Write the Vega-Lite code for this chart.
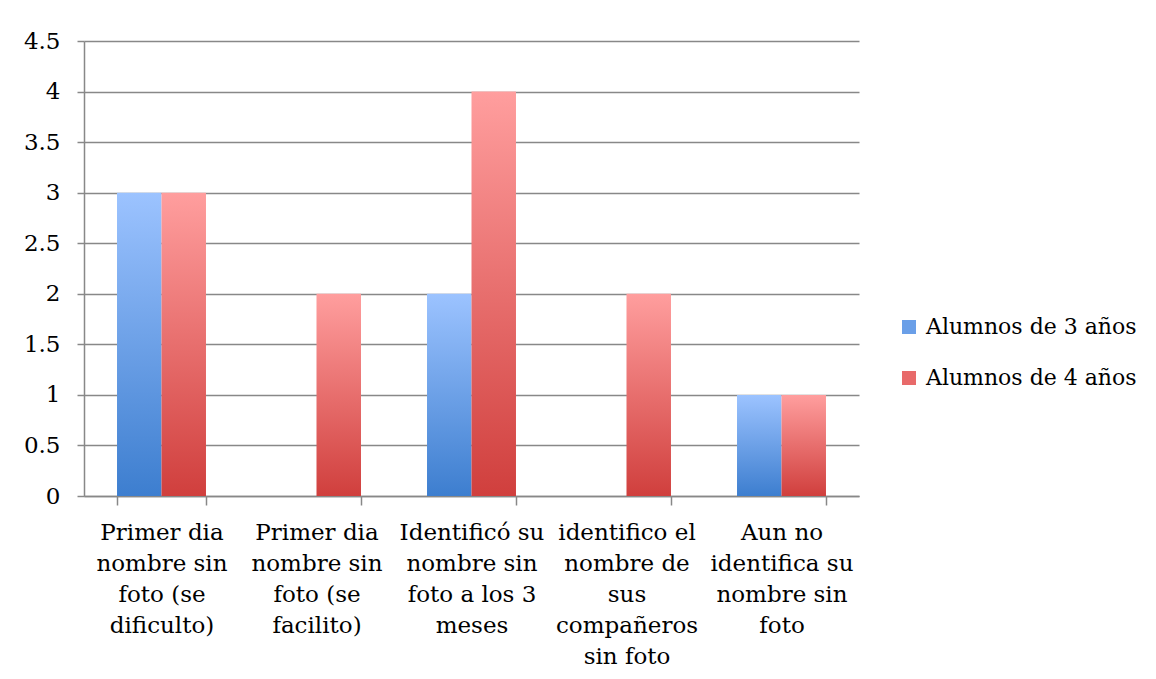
{
  "$schema": "https://vega.github.io/schema/vega-lite/v6.json",
  "width": 775,
  "height": 455,
  "autosize": {"type": "none"},
  "padding": {"left": 84, "top": 41, "right": 297, "bottom": 183},
  "background": "white",
  "config": {
    "view": {"stroke": null},
    "font": "DejaVu Serif"
  },
  "data": {
    "values": [
      {"categoria": "Primer dia|nombre sin|foto (se|dificulto)", "serie": "Alumnos de 3 años", "valor": 3},
      {"categoria": "Primer dia|nombre sin|foto (se|facilito)", "serie": "Alumnos de 3 años", "valor": 0},
      {"categoria": "Identificó su|nombre sin|foto a los 3|meses", "serie": "Alumnos de 3 años", "valor": 2},
      {"categoria": "identifico el|nombre de|sus|compañeros|sin foto", "serie": "Alumnos de 3 años", "valor": 0},
      {"categoria": "Aun no|identifica su|nombre sin|foto", "serie": "Alumnos de 3 años", "valor": 1},
      {"categoria": "Primer dia|nombre sin|foto (se|dificulto)", "serie": "Alumnos de 4 años", "valor": 3},
      {"categoria": "Primer dia|nombre sin|foto (se|facilito)", "serie": "Alumnos de 4 años", "valor": 2},
      {"categoria": "Identificó su|nombre sin|foto a los 3|meses", "serie": "Alumnos de 4 años", "valor": 4},
      {"categoria": "identifico el|nombre de|sus|compañeros|sin foto", "serie": "Alumnos de 4 años", "valor": 2},
      {"categoria": "Aun no|identifica su|nombre sin|foto", "serie": "Alumnos de 4 años", "valor": 1}
    ]
  },
  "encoding": {
    "x": {
      "field": "categoria",
      "type": "nominal",
      "sort": null,
      "scale": {"paddingInner": 0.426, "paddingOuter": 0.213},
      "axis": {
        "title": null,
        "labelAngle": 0,
        "labelExpr": "split(datum.label, '|')",
        "labelFont": "DejaVu Serif",
        "labelFontSize": 23,
        "labelLineHeight": 31,
        "labelColor": "#000000",
        "labelLimit": 300,
        "labelPadding": 16,
        "labelBaseline": "top",
        "tickBand": "extent",
        "tickSize": 9,
        "tickColor": "#888888",
        "tickWidth": 1.5,
        "domainColor": "#888888",
        "domainWidth": 1.5,
        "grid": false
      }
    },
    "xOffset": {
      "field": "serie",
      "type": "nominal",
      "scale": {"domain": ["Alumnos de 3 años", "Alumnos de 4 años"], "paddingInner": 0, "paddingOuter": 0}
    },
    "y": {
      "field": "valor",
      "type": "quantitative",
      "scale": {"domain": [0, 4.5], "nice": false},
      "axis": {
        "title": null,
        "values": [0, 0.5, 1, 1.5, 2, 2.5, 3, 3.5, 4, 4.5],
        "format": "~g",
        "grid": true,
        "gridColor": "#888888",
        "gridWidth": 1.5,
        "domainColor": "#888888",
        "domainWidth": 1.5,
        "tickColor": "#888888",
        "tickWidth": 1.5,
        "tickSize": 7,
        "labelFont": "DejaVu Serif",
        "labelFontSize": 23,
        "labelColor": "#000000",
        "labelPadding": 17
      }
    }
  },
  "layer": [
    {
      "transform": [{"filter": "datum.serie === 'Alumnos de 3 años'"}],
      "mark": {
        "type": "bar",
        "color": {
          "gradient": "linear", "x1": 0, "y1": 0, "x2": 0, "y2": 1,
          "stops": [{"offset": 0, "color": "#9CC3FF"}, {"offset": 1, "color": "#3D7ECF"}]
        }
      }
    },
    {
      "transform": [{"filter": "datum.serie === 'Alumnos de 4 años'"}],
      "mark": {
        "type": "bar",
        "color": {
          "gradient": "linear", "x1": 0, "y1": 0, "x2": 0, "y2": 1,
          "stops": [{"offset": 0, "color": "#FF9E9E"}, {"offset": 1, "color": "#D03F3D"}]
        }
      }
    },
    {
      "mark": {"type": "square", "opacity": 0, "size": 1},
      "encoding": {
        "color": {
          "field": "serie",
          "type": "nominal",
          "scale": {"domain": ["Alumnos de 3 años", "Alumnos de 4 años"], "range": ["#6A9FE8", "#E86A6A"]},
          "legend": {
            "title": null,
            "orient": "none",
            "legendX": 814,
            "legendY": 275,
            "symbolType": "square",
            "symbolSize": 196,
            "symbolOpacity": 1,
            "symbolStrokeWidth": 0,
            "labelFont": "DejaVu Serif",
            "labelFontSize": 22,
            "labelColor": "#000000",
            "labelOffset": 6,
            "rowPadding": 29,
            "labelLimit": 400
          }
        }
      }
    }
  ]
}
